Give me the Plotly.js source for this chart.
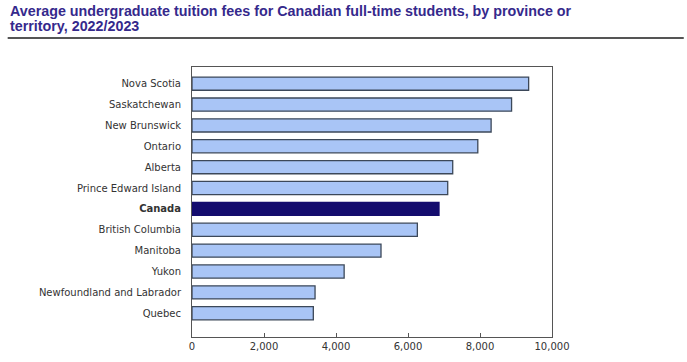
<!DOCTYPE html>
<html>
<head>
<meta charset="utf-8">
<script src="https://cdn.plot.ly/plotly-3.0.1.min.js"></script>
<style>html,body{margin:0;padding:0;background:#fff;}#chart{width:687px;height:362px;}</style>
</head>
<body>
<div id="chart"></div>
<script>
const categories = ["Nova Scotia","Saskatchewan","New Brunswick","Ontario","Alberta","Prince Edward Island","Canada","British Columbia","Manitoba","Yukon","Newfoundland and Labrador","Quebec"];
const fees = [9351, 8877, 8309, 7939, 7242, 7103, 6861, 6260, 5250, 4226, 3418, 3370];
const xTicks = [0, 2000, 4000, 6000, 8000, 10000];
const highlight = "Canada";
const titleLines = ["Average undergraduate tuition fees for Canadian full-time students, by province or", "territory, 2022/2023"];

const positions = categories.map((c, i) => i);
const fillColors = categories.map(c => c === highlight ? "#140c6e" : "#a9c5f6");
const lineColors = categories.map(c => c === highlight ? "#140c6e" : "#3c4859");
const tickText = categories.map(c => c === highlight ? "<b>" + c + "</b>" : c);

const trace = {
  type: "bar",
  orientation: "h",
  x: fees,
  y: positions,
  width: 0.63,
  marker: {color: fillColors, line: {color: lineColors, width: 1.3}},
  hoverinfo: "x+text",
  text: categories,
  textposition: "none"
};

const titleY = [1.209, 1.1533];
const annotations = titleLines.map((t, i) => ({
  text: t, xref: "paper", yref: "paper", x: -0.512, y: titleY[i],
  xanchor: "left", yanchor: "middle", align: "left", showarrow: false,
  font: {family: "Liberation Sans, Arial, sans-serif", size: 14.3, color: "#35298c", weight: "bold"}
}));

const layout = {
  width: 687, height: 362,
  margin: {l: 192, r: 135, t: 67, b: 25, pad: 0},
  paper_bgcolor: "#fff", plot_bgcolor: "#fff",
  showlegend: false,
  font: {family: "DejaVu Sans, Verdana, sans-serif", size: 10, color: "#333"},
  xaxis: {
    range: [0, 10000], tickvals: xTicks, tickformat: ",", showgrid: false, zeroline: false,
    showline: true, linecolor: "#555", linewidth: 1, mirror: true,
    ticks: "inside", ticklen: 4, tickcolor: "#555",
    tickfont: {family: "DejaVu Sans, Verdana, sans-serif", size: 10, color: "#333"}
  },
  yaxis: {
    range: [12.14, -0.8], tickvals: positions, ticktext: tickText, showgrid: false, zeroline: false,
    showline: true, linecolor: "#555", linewidth: 1, mirror: true, ticks: "", ticklabelstandoff: 8,
    tickfont: {family: "DejaVu Sans, Verdana, sans-serif", size: 10, color: "#333"}
  },
  annotations: annotations,
  shapes: [{
    type: "line", xref: "paper", yref: "paper",
    x0: -0.512, x1: 1.366, y0: 1.107, y1: 1.107,
    line: {color: "#555", width: 2}
  }]
};

Plotly.newPlot("chart", [trace], layout, {displayModeBar: false, staticPlot: true});
</script>
</body>
</html>
